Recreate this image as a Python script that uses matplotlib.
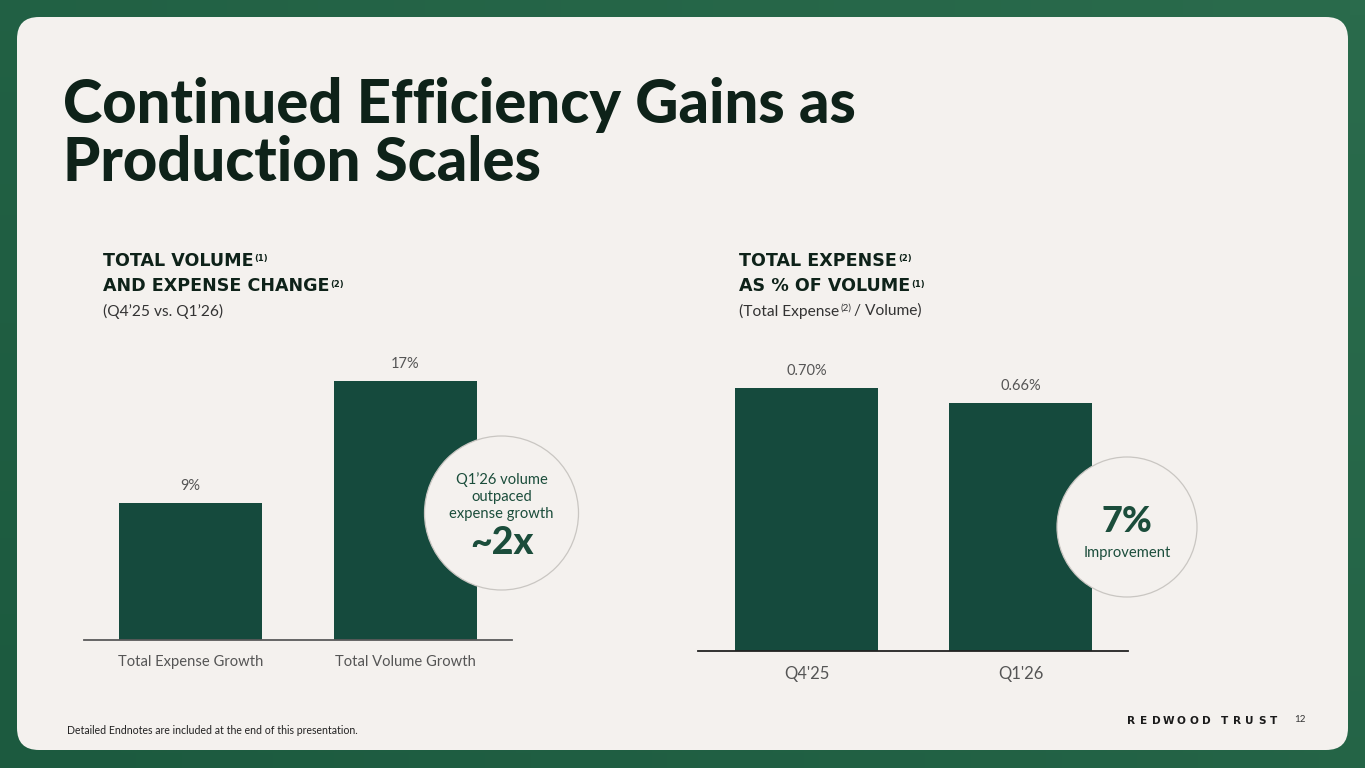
import matplotlib
matplotlib.use('Agg')
import matplotlib.pyplot as plt
import numpy as np
from matplotlib.patches import FancyBboxPatch, Circle
from matplotlib.colors import LinearSegmentedColormap

# ---------------- data ----------------
left_categories = ['Total Expense Growth', 'Total Volume Growth']
left_values = [9, 17]
left_labels = ['9%', '17%']

right_categories = ["Q4'25", "Q1'26"]
right_values = [0.70, 0.66]
right_labels = ['0.70%', '0.66%']

W, H = 1365, 768
BAR = '#154a3d'
PANEL = '#f4f1ee'
DARK = '#0e2219'
GRAY = '#555555'
GREEN_TXT = '#1b4d3b'

plt.rcParams['font.family'] = ['Lato', 'DejaVu Sans']

fig = plt.figure(figsize=(W / 100, H / 100), dpi=100)

# ---------------- background ----------------
bg = fig.add_axes([0, 0, 1, 1], zorder=0)
bg.set_xlim(0, W); bg.set_ylim(H, 0); bg.axis('off')
yy, xx = np.mgrid[0:1:50j, 0:1:90j]
cm = LinearSegmentedColormap.from_list('g', ['#1c5a3f', '#2a6b4c'])
bg.imshow(0.6 * xx + 0.4 * (1 - yy), cmap=cm, extent=[0, W, H, 0], aspect='auto', zorder=0)
r = 22
panel = FancyBboxPatch((17 + r, 17 + r), (1348 - 17 - 2 * r), (750 - 17 - 2 * r),
                       boxstyle=f"round,pad={r}", fc=PANEL, ec='none', zorder=1)
bg.add_patch(panel)

def px_axes(x0, x1, ytop, ybase):
    return fig.add_axes([x0 / W, (H - ybase) / H, (x1 - x0) / W, (ybase - ytop) / H], zorder=1)

def style(ax, spine_col):
    ax.set_facecolor('none')
    for s in ['top', 'right', 'left']:
        ax.spines[s].set_visible(False)
    ax.spines['bottom'].set_color(spine_col)
    ax.spines['bottom'].set_linewidth(1.3)
    ax.set_yticks([])
    ax.tick_params(axis='x', length=0)

# ---------------- left chart ----------------
axl = px_axes(84, 512, 340, 640)
xl = np.arange(len(left_values))
axl.bar(xl, left_values, width=0.665, color=BAR)
axl.set_xlim(-0.495, 1.495)
axl.set_ylim(0, 17 * 300 / 259)
style(axl, '#5a5a5a')
axl.set_xticks(xl)
axl.set_xticklabels(left_categories, fontsize=10.6, color=GRAY)
axl.tick_params(axis='x', pad=11)
for x, v, lab in zip(xl, left_values, left_labels):
    axl.annotate(lab, (x, v), xytext=(0, 10), textcoords='offset pixels',
                 ha='center', va='bottom', fontsize=10.5, color=GRAY)

# ---------------- right chart ----------------
axr = px_axes(698, 1128, 351, 651)
xr = np.arange(len(right_values))
axr.bar(xr, right_values, width=0.668, color=BAR)
axr.set_xlim(-0.507, 1.502)
axr.set_ylim(0, 0.70 * 300 / 263)
style(axr, '#222222')
axr.set_xticks(xr)
axr.set_xticklabels(right_categories, fontsize=12, color=GRAY)
axr.tick_params(axis='x', pad=11)
for x, v, lab in zip(xr, right_values, right_labels):
    axr.annotate(lab, (x, v), xytext=(0, 10), textcoords='offset pixels',
                 ha='center', va='bottom', fontsize=10.5, color=GRAY)

# ---------------- overlay ----------------
ov = fig.add_axes([0, 0, 1, 1], zorder=2)
ov.set_xlim(0, W); ov.set_ylim(H, 0); ov.axis('off'); ov.set_facecolor('none')

ov.text(63, 123, 'Continued Efficiency Gains as', fontsize=43, fontweight='black',
        color=DARK, va='baseline', ha='left')
ov.text(63, 181, 'Production Scales', fontsize=43, fontweight='black',
        color=DARK, va='baseline', ha='left')

fig.canvas.draw()
renderer = fig.canvas.get_renderer()

HEADFONT = ['DejaVu Sans']

def head(x, y, main, sup, size=12.6, weight='bold', color=DARK, supsize=6.0, supdy=-2,
         family=HEADFONT, gap=1):
    t = ov.text(x, y, main, fontsize=size, fontweight=weight, color=color, va='center',
                ha='left', family=family)
    bb = t.get_window_extent(renderer)
    xe = bb.x1
    if sup:
        ov.text(xe + gap, y + supdy, sup, fontsize=supsize, fontweight=weight, color=color,
                va='center', ha='left', family=family)
    return xe

head(103, 261, 'TOTAL VOLUME', '(1)')
head(103, 286, 'AND EXPENSE CHANGE', '(2)')
ov.text(103, 311, "(Q4\u201925 vs. Q1\u201926)", fontsize=11.2, color='#333333', va='center', ha='left')

head(739, 261, 'TOTAL EXPENSE', '(2)')
head(739, 286, 'AS % OF VOLUME', '(1)')
xe = head(739, 311, '(Total Expense', '(2)', size=11.2, weight='normal', color='#333333',
          supsize=7, supdy=-3, family=['Lato', 'DejaVu Sans'], gap=1)
ov.text(xe + 15, 311, '/ Volume)', fontsize=11.2, color='#333333', va='center', ha='left')

# circles
c1 = Circle((501.5, 513), 77, fc=PANEL, ec='#c9c6c2', lw=0.9)
ov.add_patch(c1)
for yv, s in zip([480, 497, 514], ["Q1\u201926 volume", 'outpaced', 'expense growth']):
    ov.text(501.5, yv, s, fontsize=10.6, color=GREEN_TXT, ha='center', va='center')
ov.text(501.5, 543, '~2x', fontsize=27, fontweight='black', color=GREEN_TXT, ha='center', va='center')

c2 = Circle((1127, 527), 70, fc=PANEL, ec='#c9c6c2', lw=0.9)
ov.add_patch(c2)
ov.text(1127, 521, '7%', fontsize=26, fontweight='black', color=GREEN_TXT, ha='center', va='center')
ov.text(1127, 553, 'Improvement', fontsize=10.6, color=GREEN_TXT, ha='center', va='center')

# footer
ov.text(67, 731, 'Detailed Endnotes are included at the end of this presentation.',
        fontsize=7.6, color='#222222', ha='left', va='center')
brand = 'REDWOOD TRUST'
xpos = 1131.5
for ch in brand:
    if ch == ' ':
        xpos += 6
        continue
    ov.text(xpos, 721, ch, fontsize=7.6, fontweight='bold', color='#1a1a1a',
            ha='center', va='center', family=['DejaVu Sans'])
    xpos += 12.4
ov.text(1294, 720, '12', fontsize=7, color='#333333', ha='left', va='center')

fig.savefig('out.png', dpi=100)
